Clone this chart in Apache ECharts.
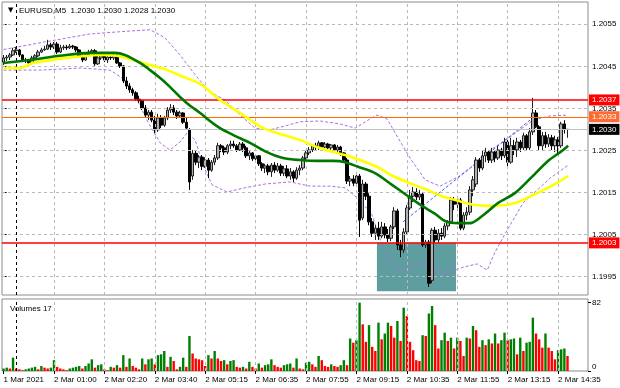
<!DOCTYPE html>
<html><head><meta charset="utf-8">
<script src="https://cdn.jsdelivr.net/npm/echarts@6/dist/echarts.min.js"></script>
<style>html,body{margin:0;padding:0;background:#fff}#c{width:620px;height:388px}</style>
</head><body><div id="c"></div>
<script>
// ---------- data ----------
const symbolTitle = 'EURUSD,M5  1.2030 1.2030 1.2028 1.2030';
const volumeTitle = 'Volumes 17';
const timeLabels = ['1 Mar 2021','2 Mar 01:00','2 Mar 02:20','2 Mar 03:40','2 Mar 05:15','2 Mar 06:35','2 Mar 07:55','2 Mar 09:15','2 Mar 10:35','2 Mar 11:55','2 Mar 13:15','2 Mar 14:35'];
const labelEvery = 16;
const emptyBarsRight = 6;
const daySeparatorBar = 4;
const priceTicks = [1.1995,1.2005,1.2015,1.2025,1.2035,1.2045,1.2055];
const priceMin = 1.19906, priceMax = 1.20603;
const volumeTicks = [0, 82];
const volumeMax = 86.4;

// [open, close, low, high]
const candles = [
[1.20460,1.20470,1.20453,1.20477],[1.20470,1.20472,1.20463,1.20477],[1.20472,1.20477,1.20465,1.20482],[1.20477,1.20487,1.20475,1.20494],[1.20487,1.20489,1.20482,1.20496],
[1.20489,1.20477,1.20472,1.20491],[1.20477,1.20465,1.20460,1.20479],[1.20465,1.20463,1.20458,1.20470],[1.20463,1.20458,1.20451,1.20467],[1.20458,1.20470,1.20455,1.20475],
[1.20470,1.20475,1.20465,1.20479],[1.20475,1.20484,1.20472,1.20489],[1.20484,1.20489,1.20482,1.20494],[1.20489,1.20491,1.20487,1.20499],[1.20491,1.20501,1.20489,1.20513],
[1.20501,1.20496,1.20489,1.20506],[1.20496,1.20503,1.20491,1.20508],[1.20503,1.20484,1.20479,1.20508],[1.20484,1.20494,1.20482,1.20501],[1.20494,1.20496,1.20489,1.20501],
[1.20496,1.20494,1.20489,1.20501],[1.20494,1.20498,1.20491,1.20503],[1.20498,1.20496,1.20491,1.20501],[1.20496,1.20489,1.20484,1.20498],[1.20489,1.20475,1.20470,1.20491],
[1.20475,1.20465,1.20460,1.20479],[1.20465,1.20477,1.20463,1.20482],[1.20477,1.20484,1.20472,1.20489],[1.20484,1.20487,1.20479,1.20491],[1.20487,1.20456,1.20451,1.20491],
[1.20456,1.20470,1.20453,1.20477],[1.20470,1.20475,1.20465,1.20479],[1.20475,1.20465,1.20460,1.20477],[1.20465,1.20472,1.20458,1.20477],[1.20472,1.20470,1.20465,1.20477],
[1.20470,1.20475,1.20465,1.20479],[1.20475,1.20458,1.20456,1.20482],[1.20458,1.20451,1.20446,1.20460],[1.20451,1.20415,1.20410,1.20453],[1.20415,1.20403,1.20396,1.20425],
[1.20403,1.20394,1.20387,1.20410],[1.20394,1.20387,1.20380,1.20399],[1.20387,1.20372,1.20368,1.20391],[1.20372,1.20368,1.20363,1.20380],[1.20368,1.20351,1.20346,1.20370],
[1.20351,1.20334,1.20327,1.20358],[1.20334,1.20341,1.20322,1.20346],[1.20341,1.20322,1.20317,1.20346],[1.20322,1.20299,1.20291,1.20332],[1.20299,1.20327,1.20294,1.20337],
[1.20327,1.20310,1.20303,1.20334],[1.20310,1.20327,1.20306,1.20332],[1.20327,1.20346,1.20322,1.20353],[1.20346,1.20351,1.20339,1.20360],[1.20351,1.20341,1.20334,1.20358],
[1.20341,1.20332,1.20325,1.20346],[1.20332,1.20339,1.20329,1.20344],[1.20339,1.20317,1.20313,1.20341],[1.20317,1.20303,1.20299,1.20327],[1.20299,1.20175,1.20156,1.20303],
[1.20189,1.20243,1.20180,1.20251],[1.20243,1.20222,1.20215,1.20251],[1.20222,1.20234,1.20208,1.20239],[1.20234,1.20212,1.20203,1.20239],[1.20212,1.20227,1.20208,1.20234],
[1.20227,1.20203,1.20184,1.20232],[1.20203,1.20222,1.20199,1.20227],[1.20222,1.20232,1.20215,1.20239],[1.20232,1.20261,1.20227,1.20268],[1.20261,1.20256,1.20246,1.20265],
[1.20256,1.20246,1.20239,1.20261],[1.20246,1.20261,1.20241,1.20265],[1.20261,1.20265,1.20253,1.20273],[1.20265,1.20261,1.20256,1.20273],[1.20261,1.20251,1.20246,1.20265],
[1.20251,1.20265,1.20249,1.20270],[1.20265,1.20256,1.20246,1.20270],[1.20256,1.20237,1.20232,1.20261],[1.20237,1.20244,1.20227,1.20251],[1.20244,1.20230,1.20225,1.20246],
[1.20230,1.20237,1.20220,1.20241],[1.20237,1.20218,1.20213,1.20239],[1.20218,1.20208,1.20201,1.20222],[1.20208,1.20213,1.20196,1.20218],[1.20213,1.20199,1.20191,1.20218],
[1.20199,1.20215,1.20187,1.20220],[1.20215,1.20203,1.20196,1.20222],[1.20203,1.20213,1.20199,1.20220],[1.20213,1.20196,1.20189,1.20218],[1.20196,1.20206,1.20189,1.20213],
[1.20206,1.20189,1.20184,1.20215],[1.20189,1.20199,1.20180,1.20208],[1.20199,1.20184,1.20175,1.20203],[1.20184,1.20203,1.20180,1.20210],[1.20203,1.20208,1.20191,1.20215],
[1.20208,1.20232,1.20203,1.20237],[1.20232,1.20244,1.20227,1.20249],[1.20244,1.20251,1.20239,1.20258],[1.20251,1.20261,1.20246,1.20265],[1.20261,1.20258,1.20251,1.20268],
[1.20258,1.20268,1.20251,1.20273],[1.20268,1.20258,1.20253,1.20270],[1.20258,1.20265,1.20251,1.20270],[1.20265,1.20256,1.20249,1.20268],[1.20256,1.20263,1.20246,1.20265],
[1.20263,1.20251,1.20244,1.20265],[1.20251,1.20258,1.20244,1.20263],[1.20258,1.20244,1.20237,1.20261],[1.20244,1.20227,1.20220,1.20246],[1.20227,1.20177,1.20170,1.20232],
[1.20177,1.20182,1.20165,1.20189],[1.20182,1.20172,1.20165,1.20191],[1.20172,1.20189,1.20168,1.20199],[1.20189,1.20084,1.20044,1.20194],[1.20089,1.20170,1.20084,1.20180],
[1.20170,1.20141,1.20132,1.20175],[1.20141,1.20080,1.20072,1.20148],[1.20080,1.20053,1.20044,1.20089],[1.20053,1.20065,1.20037,1.20072],[1.20065,1.20046,1.20037,1.20080],
[1.20046,1.20068,1.20041,1.20080],[1.20068,1.20049,1.20041,1.20077],[1.20049,1.20041,1.20032,1.20063],[1.20041,1.20068,1.20034,1.20073],[1.20068,1.20106,1.20063,1.20115],
[1.20106,1.20025,1.20013,1.20111],[1.20025,1.20013,1.19996,1.20037],[1.20013,1.20056,1.20006,1.20065],[1.20056,1.20113,1.20049,1.20120],[1.20113,1.20141,1.20108,1.20156],
[1.20141,1.20151,1.20127,1.20163],[1.20151,1.20139,1.20132,1.20160],[1.20139,1.20146,1.20132,1.20156],[1.20146,1.20025,1.20020,1.20151],[1.20025,1.20032,1.20018,1.20037],
[1.20032,1.19934,1.19925,1.20037],[1.19941,1.20060,1.19934,1.20065],[1.20060,1.20037,1.20030,1.20068],[1.20037,1.20053,1.20030,1.20063],[1.20053,1.20046,1.20037,1.20065],
[1.20046,1.20070,1.20041,1.20077],[1.20070,1.20080,1.20060,1.20084],[1.20080,1.20132,1.20075,1.20139],[1.20132,1.20122,1.20108,1.20139],[1.20122,1.20132,1.20113,1.20141],
[1.20132,1.20065,1.20060,1.20137],[1.20065,1.20096,1.20060,1.20103],[1.20096,1.20103,1.20084,1.20115],[1.20103,1.20156,1.20096,1.20165],[1.20156,1.20180,1.20141,1.20189],
[1.20170,1.20227,1.20163,1.20234],[1.20227,1.20208,1.20199,1.20232],[1.20208,1.20237,1.20203,1.20251],[1.20237,1.20246,1.20222,1.20256],[1.20246,1.20227,1.20220,1.20251],
[1.20227,1.20246,1.20220,1.20256],[1.20246,1.20232,1.20222,1.20251],[1.20232,1.20251,1.20227,1.20261],[1.20251,1.20237,1.20227,1.20256],[1.20237,1.20270,1.20232,1.20280],
[1.20270,1.20222,1.20210,1.20275],[1.20222,1.20261,1.20218,1.20280],[1.20261,1.20251,1.20239,1.20275],[1.20251,1.20270,1.20234,1.20280],[1.20270,1.20256,1.20246,1.20275],
[1.20256,1.20285,1.20251,1.20292],[1.20285,1.20256,1.20251,1.20289],[1.20256,1.20294,1.20251,1.20303],[1.20294,1.20339,1.20287,1.20375],[1.20339,1.20306,1.20303,1.20346],
[1.20306,1.20261,1.20251,1.20310],[1.20261,1.20285,1.20251,1.20294],[1.20285,1.20265,1.20256,1.20294],[1.20265,1.20280,1.20258,1.20289],[1.20280,1.20261,1.20251,1.20287],
[1.20261,1.20275,1.20246,1.20285],[1.20275,1.20261,1.20239,1.20282],[1.20261,1.20313,1.20256,1.20318],[1.20313,1.20300,1.20290,1.20322],[1.20300,1.20300,1.20280,1.20300]
];

const volumes = [
3,4,3,16,3,2,1,2,3,4, 5,2,6,4,3,4,13,5,3,2, 1,3,4,5,6,3,6,9,14,4, 7,8,2,1,5,4,7,4,19,5,
15,6,4,2,15,8,14,15,8,19, 20,24,5,17,12,2,5,16,5,42, 21,15,14,13,6,19,15,24,15,12, 13,8,12,13,5,4,5,3,11,5,
3,9,4,7,8,14,7,5,4,7, 8,9,4,15,3,2,10,11,8,5, 18,13,6,5,8,6,5,7,13,7, 39,34,37,82,56,35,55,29,24,58,
38,45,58,54,40,60,36,76,66,35, 25,13,12,43,42,69,78,55,27,37, 46,36,40,27,40,36,18,40,39,54, 49,29,37,31,38,33,45,33,37,46,
37,38,39,20,40,24,34,35,64,45, 38,28,45,28,24,14,25,26,27,18
];

// indicator lines: [bar index, price]
const maFast = [[0,1.20458],[8.4,1.20465],[17.9,1.20475],[27.4,1.20482],[35.4,1.20482],[38.5,1.20477],[43.3,1.20458],[46.5,1.20441],[49.7,1.20422],[52.8,1.20401],[56,1.20377],[59.2,1.20356],[62.4,1.20339],[65.5,1.20320],[68.7,1.20303],[72.8,1.20287],[78.2,1.20268],[83.6,1.20246],[88.7,1.20232],[94.1,1.20227],[99.5,1.20225],[104.6,1.20225],[108.4,1.20222],[112.5,1.20211],[117.9,1.20196],[123.3,1.20168],[128.4,1.20141],[132.8,1.20118],[137,1.20099],[140.1,1.20082],[144.3,1.20077],[148.1,1.20077],[151.9,1.20094],[157,1.20125],[162.4,1.20149],[167.7,1.20187],[172.8,1.20225],[177.3,1.20249],[179.2,1.20261]];
const maSlow = [[0,1.20446],[5.2,1.20446],[9.3,1.20458],[20.1,1.20470],[30.6,1.20477],[36,1.20475],[41.1,1.20465],[46.5,1.20453],[51.9,1.20441],[57,1.20425],[62.4,1.20408],[68.7,1.20370],[75.1,1.20339],[82.4,1.20303],[88.7,1.20287],[94.1,1.20275],[99.5,1.20258],[104.6,1.20246],[108.4,1.20239],[113.1,1.20227],[118.5,1.20211],[123.6,1.20189],[129,1.20172],[133.8,1.20158],[139.2,1.20141],[144.3,1.20130],[149.7,1.20120],[156,1.20118],[162.4,1.20125],[168.7,1.20146],[175,1.20170],[179.2,1.20189]];
const bandUpper = [[0,1.20490],[13.1,1.20508],[27.4,1.20527],[40.1,1.20534],[46.5,1.20537],[51.2,1.20518],[56,1.20477],[60.8,1.20430],[65.5,1.20389],[70.3,1.20370],[75.1,1.20334],[79.8,1.20303],[84.6,1.20299],[89.3,1.20308],[94.1,1.20318],[100.4,1.20320],[106.8,1.20313],[111.6,1.20303],[115.7,1.20322],[118.5,1.20334],[121.7,1.20325],[125.2,1.20280],[129,1.20232],[133.8,1.20180],[138.5,1.20165],[144.3,1.20187],[148.1,1.20208],[152.2,1.20239],[160.8,1.20282],[168.1,1.20322],[173.5,1.20332],[179.2,1.20334]];
const bandLower = [[0,1.20441],[11.6,1.20441],[24.3,1.20446],[33.8,1.20441],[38.5,1.20418],[41.7,1.20382],[45.5,1.20322],[49.7,1.20268],[52.8,1.20251],[56,1.20270],[58.2,1.20291],[60.8,1.20275],[63.3,1.20215],[66.2,1.20168],[70.9,1.20151],[76.6,1.20161],[83,1.20170],[90.9,1.20175],[97.3,1.20165],[103.6,1.20165],[108.4,1.20161],[113.1,1.20132],[117,1.20096],[120.1,1.20025],[123.3,1.19984],[125.8,1.19965],[129,1.19975],[132.2,1.19984],[136,1.19965],[140.8,1.19958],[145.8,1.19972],[150.3,1.19980],[153.5,1.19965],[156,1.20008],[159.8,1.20060],[164.9,1.20125],[173.5,1.20184],[179.2,1.20215]];
const trendLine = [[126.8,1.20080],[167.1,1.20322]];

const resistanceLevel = 1.2037;
const targetLevel = 1.2033;
const supportLevel = 1.2003;
const bidPrice = 1.2030;
const zone = { fromBar: 118.5, toBar: 143.6, top: 1.2003, bottom: 1.19915 };

// ---------- chart ----------
const FONT = '"Liberation Sans",Arial,sans-serif';
const FS = 8;
const nCats = candles.length + emptyBarsRight;
const cats = Array.from({length: nCats}, (_, i) => String(i));
const isLabelIdx = (i) => i % labelEvery === 0 && i / labelEvery < timeLabels.length;

const gridDash = { color: '#b9b9b9', type: [3, 3], width: 1 };
const hGrid = priceTicks.map(v => ({ yAxis: v }));
const vGrid = timeLabels.map((_, k) => ({ xAxis: k * labelEvery })).filter(d => d.xAxis > 0);

const green = '#008000', red = '#ff0000';
const volData = volumes.map((v, i) => ({
  value: v,
  itemStyle: { color: (i === 0 || v > volumes[i - 1]) ? green : red }
}));

function levelLabel(bg) {
  return { show: true, position: 'end', distance: 1, formatter: p => Number(p.value).toFixed(4),
    backgroundColor: bg, color: '#fff', fontFamily: FONT, fontSize: FS, padding: [2, 3, 1, 3] };
}

const option = {
  animation: false,
  backgroundColor: '#fff',
  title: [
    { text: '▼', left: 3, top: 2, textStyle: { fontSize: 7, color: '#000', fontWeight: 'normal', fontFamily: 'DejaVu Sans' } },
    { text: symbolTitle, left: 14, top: 2, textStyle: { fontSize: FS, color: '#000', fontWeight: 'normal', fontFamily: FONT } },
    { text: volumeTitle, left: 5, top: 300, textStyle: { fontSize: FS, color: '#000', fontWeight: 'normal', fontFamily: FONT } }
  ],
  grid: [
    { left: 2, top: 2, width: 586, height: 293, show: true, borderColor: '#8c8c8c', borderWidth: 1, backgroundColor: 'transparent' },
    { left: 2, top: 299, width: 586, height: 72, show: true, borderColor: '#8c8c8c', borderWidth: 1, backgroundColor: 'transparent' }
  ],
  xAxis: [
    { type: 'category', gridIndex: 0, data: cats, axisLine: { show: false }, axisTick: { show: false }, axisLabel: { show: false }, splitLine: { show: false } },
    { type: 'value', gridIndex: 0, min: -0.5, max: nCats - 0.5, show: false },
    { type: 'category', gridIndex: 1, data: cats, axisLine: { show: false },
      axisTick: { show: true, alignWithLabel: true, interval: (i) => isLabelIdx(i), length: 3, lineStyle: { color: '#000' } },
      axisLabel: { interval: (i) => isLabelIdx(i), formatter: (v, i) => timeLabels[i / labelEvery] || '', align: 'left', margin: 5,
        fontFamily: FONT, fontSize: FS, color: '#000', hideOverlap: false },
      splitLine: { show: false } }
  ],
  yAxis: [
    { type: 'value', gridIndex: 0, position: 'right', min: priceMin, max: priceMax, scale: true,
      axisLine: { show: false }, splitLine: { show: false },
      axisTick: { show: true, length: 3, customValues: priceTicks, lineStyle: { color: '#000' } },
      axisLabel: { customValues: priceTicks, formatter: v => v.toFixed(4), margin: 4, fontFamily: FONT, fontSize: FS, color: '#000' } },
    { type: 'value', gridIndex: 1, position: 'right', min: 0, max: volumeMax,
      axisLine: { show: false }, splitLine: { show: false },
      axisTick: { show: true, length: 3, customValues: volumeTicks, lineStyle: { color: '#000' } },
      axisLabel: { customValues: volumeTicks, margin: 4, fontFamily: FONT, fontSize: FS, color: '#000',
        formatter: v => v === 0 ? '{z|0}' : String(v), rich: { z: { fontFamily: FONT, fontSize: FS, color: '#000', padding: [0, 0, 9, 0] } } } }
  ],
  series: [
    { type: 'line', name: 'grid', xAxisIndex: 1, yAxisIndex: 0, data: [], z: 1, silent: true,
      markLine: { symbol: 'none', silent: true, animation: false, precision: 6, label: { show: false }, lineStyle: gridDash, data: hGrid.concat(vGrid) } },
    { type: 'line', name: 'zone', xAxisIndex: 1, yAxisIndex: 0, data: [], z: 2, silent: true,
      markArea: { silent: true, animation: false, itemStyle: { color: '#5f9ea0' },
        data: [[{ coord: [zone.fromBar, zone.top] }, { coord: [zone.toBar, zone.bottom] }]] } },
    { type: 'line', name: 'bandUpper', xAxisIndex: 1, yAxisIndex: 0, data: bandUpper, symbol: 'none', z: 3, silent: true,
      lineStyle: { color: '#a970e0', width: 1, type: [3, 2] } },
    { type: 'line', name: 'bandLower', xAxisIndex: 1, yAxisIndex: 0, data: bandLower, symbol: 'none', z: 3, silent: true,
      lineStyle: { color: '#a970e0', width: 1, type: [3, 2] } },
    { type: 'line', name: 'trend', xAxisIndex: 1, yAxisIndex: 0, data: trendLine, symbol: 'none', z: 3, silent: true,
      lineStyle: { color: '#3c64e6', width: 1, type: [3, 2] } },
    { type: 'candlestick', name: 'EURUSD', xAxisIndex: 0, yAxisIndex: 0, data: candles, z: 4, barWidth: 3,
      itemStyle: { color: '#b0b0b0', color0: '#000', borderColor: '#202020', borderColor0: '#000', borderWidth: 1 } },
    { type: 'line', name: 'maSlow', xAxisIndex: 1, yAxisIndex: 0, data: maSlow, symbol: 'none', smooth: 0.3, z: 5, silent: true,
      lineStyle: { color: '#ffff00', width: 2.6 } },
    { type: 'line', name: 'maFast', xAxisIndex: 1, yAxisIndex: 0, data: maFast, symbol: 'none', smooth: 0.3, z: 6, silent: true,
      lineStyle: { color: '#007800', width: 2.6 } },
    { type: 'line', name: 'levels', xAxisIndex: 1, yAxisIndex: 0, data: [], z: 7, silent: true,
      markLine: { symbol: 'none', silent: true, animation: false, precision: 6, data: [
        { xAxis: daySeparatorBar, lineStyle: { color: '#000', type: [3, 3], width: 1 }, label: { show: false } },
        { yAxis: bidPrice, lineStyle: { color: '#c0c0c0', type: 'solid', width: 1 }, label: levelLabel('#000') },
        { yAxis: targetLevel, lineStyle: { color: '#ff6a00', type: 'solid', width: 1.2 }, label: levelLabel('#ff6a30') },
        { yAxis: resistanceLevel, lineStyle: { color: '#ff0000', type: 'solid', width: 1.5 }, label: levelLabel('#ff0000') },
        { yAxis: supportLevel, lineStyle: { color: '#ff0000', type: 'solid', width: 1.5 }, label: levelLabel('#ff0000') }
      ] } },
    { type: 'bar', name: 'Volumes', xAxisIndex: 2, yAxisIndex: 1, data: volData, barWidth: 2.4, z: 3,
      markLine: { symbol: 'none', silent: true, animation: false, label: { show: false }, data: [
        ...vGrid.map(d => ({ xAxis: d.xAxis, lineStyle: gridDash })),
        { xAxis: daySeparatorBar, lineStyle: { color: '#000', type: [3, 3], width: 1 } }
      ] } }
  ]
};
const chart = echarts.init(document.getElementById('c'));
chart.setOption(option);
</script></body></html>
